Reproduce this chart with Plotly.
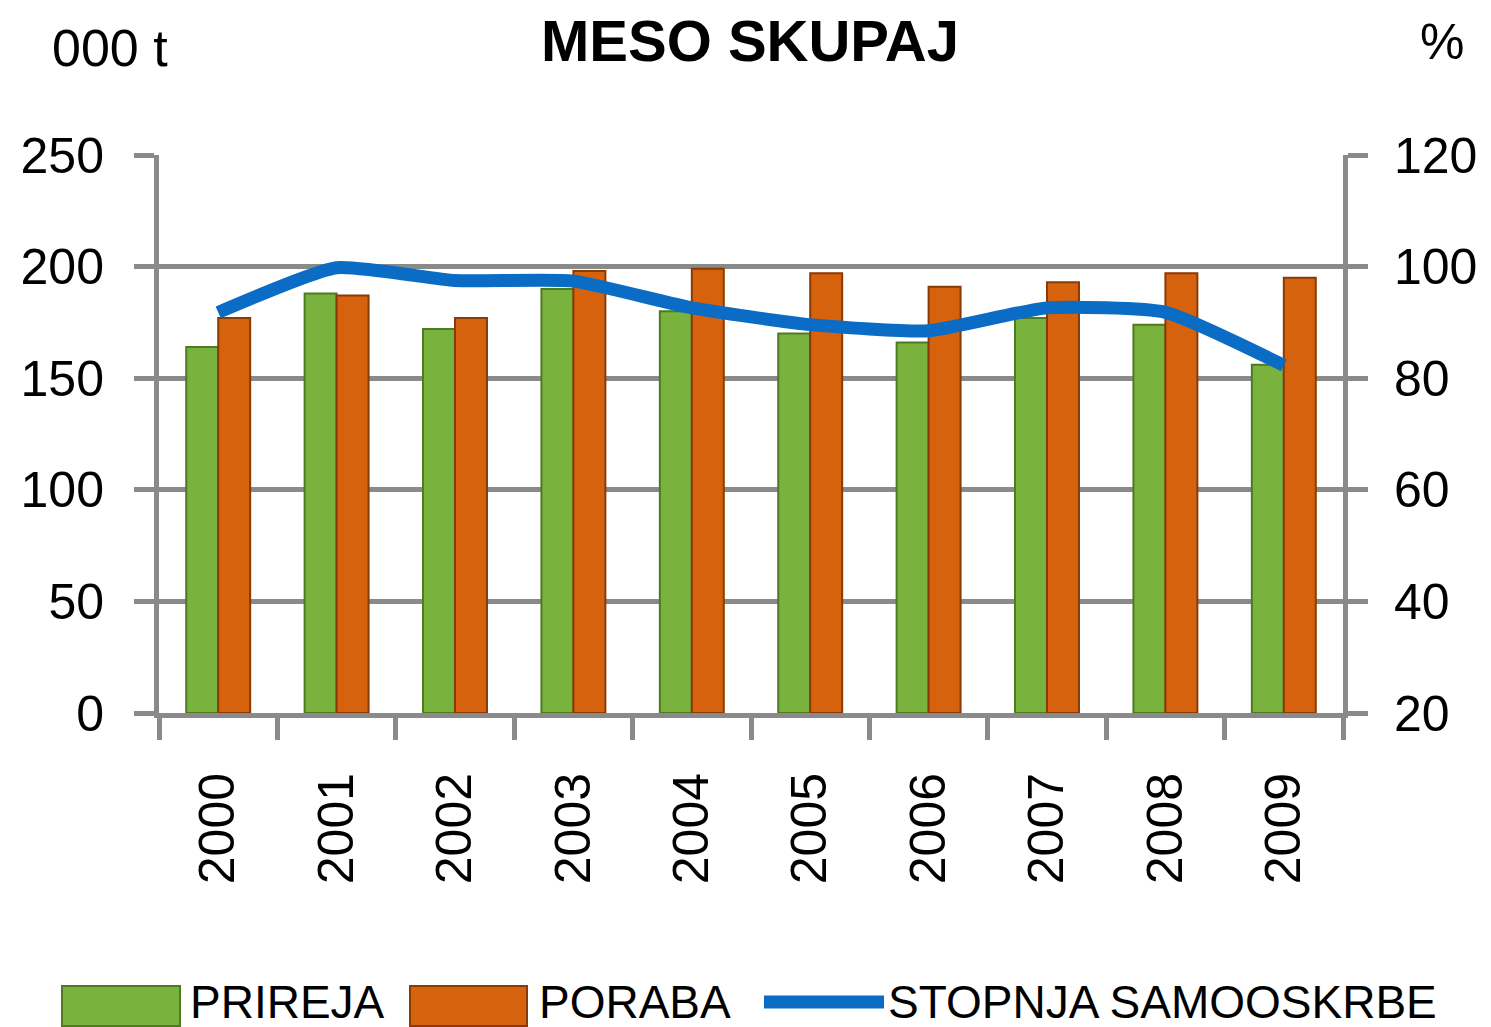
import plotly.graph_objects as go

years = ["2000", "2001", "2002", "2003", "2004", "2005", "2006", "2007", "2008", "2009"]
prireja = [164, 188, 172, 190, 180, 170, 166, 177, 174, 156]
poraba = [177, 187, 177, 198, 199, 197, 191, 193, 197, 195]
stopnja = [91.8, 99.8, 97.5, 97.4, 92.6, 89.6, 88.5, 92.6, 91.8, 82.3]

left_ticks = [0, 50, 100, 150, 200, 250]
right_ticks = [20, 40, 60, 80, 100, 120]

# page body adds an 8px offset; the figure is sized to fit the window
OFF = 8
W, H = 1491 - OFF, 1027 - OFF
L, R, T, B = 159, 1343, 155, 713  # plot area in window pixels


def px(x):
    return (x - L) / (R - L)


def py(y):
    return (B - y) / (B - T)


GRID = "#8a8a8a"
FONT = "Liberation Sans"

fig = go.Figure()
fig.add_trace(go.Bar(
    x=years, y=prireja, name="PRIREJA",
    marker=dict(color="#79b23c", line=dict(color="#4e7a22", width=2)),
))
fig.add_trace(go.Bar(
    x=years, y=poraba, name="PORABA",
    marker=dict(color="#d7620d", line=dict(color="#8a3a05", width=2)),
))
fig.add_trace(go.Scatter(
    x=years, y=stopnja, name="STOPNJA SAMOOSKRBE", yaxis="y2",
    mode="lines", line=dict(color="#0a6cc4", width=13, shape="spline", smoothing=0.5),
))

fig.update_layout(
    width=W, height=H,
    margin=dict(l=L - OFF, r=W - (R - OFF), t=T - OFF, b=H - (B - OFF), autoexpand=False),
    paper_bgcolor="white", plot_bgcolor="white",
    showlegend=False,
    barmode="group", bargap=0.46, bargroupgap=0.0,
    font=dict(family=FONT, size=50, color="black"),
    xaxis=dict(
        type="category", tickangle=-90, tickson="boundaries",
        ticks="outside", ticklen=22, tickwidth=5, tickcolor=GRID,
        showline=True, linecolor=GRID, linewidth=5,
        showgrid=False, ticklabelstandoff=35,
        tickfont=dict(family=FONT, size=50),
    ),
    yaxis=dict(
        range=[0, 250], tickvals=left_ticks,
        ticks="outside", ticklen=20, tickwidth=5, tickcolor=GRID,
        showline=True, linecolor=GRID, linewidth=5,
        showgrid=True, gridcolor=GRID, gridwidth=5, zeroline=False,
        ticklabelstandoff=20,
        tickfont=dict(family=FONT, size=50),
    ),
    yaxis2=dict(
        range=[20, 120], tickvals=right_ticks, overlaying="y", side="right",
        ticks="outside", ticklen=20, tickwidth=5, tickcolor=GRID,
        showline=True, linecolor=GRID, linewidth=5,
        showgrid=False, zeroline=False, ticklabelstandoff=16,
        tickfont=dict(family=FONT, size=50),
    ),
)

LEG = dict(family=FONT, size=46)
annotations = [
    dict(text="<b>MESO SKUPAJ</b>", x=px(750), y=py(40), xanchor="center", yanchor="middle",
         font=dict(family=FONT, size=58)),
    dict(text="000 t", x=px(50), y=py(48), xanchor="left", yanchor="middle",
         font=dict(family=FONT, size=52)),
    dict(text="%", x=px(1466), y=py(42), xanchor="right", yanchor="middle",
         font=dict(family=FONT, size=50)),
    dict(text="PRIREJA", x=px(188), y=py(1002), xanchor="left", yanchor="middle", font=LEG),
    dict(text="PORABA", x=px(537), y=py(1002), xanchor="left", yanchor="middle", font=LEG),
    dict(text="STOPNJA SAMOOSKRBE", x=px(886), y=py(1002), xanchor="left", yanchor="middle", font=LEG),
]
for a in annotations:
    a.update(xref="paper", yref="paper", showarrow=False)
fig.update_layout(annotations=annotations)

shapes = [
    dict(type="rect", x0=px(62), x1=px(180), y0=py(986), y1=py(1026),
         fillcolor="#79b23c", line=dict(color="#4e7a22", width=2)),
    dict(type="rect", x0=px(410), x1=px(527), y0=py(986), y1=py(1026),
         fillcolor="#d7620d", line=dict(color="#8a3a05", width=2)),
    dict(type="line", x0=px(764), x1=px(884), y0=py(1002), y1=py(1002),
         line=dict(color="#0a6cc4", width=13)),
]
for s in shapes:
    s.update(xref="paper", yref="paper")
fig.update_layout(shapes=shapes)

fig.write_html("out.html")
